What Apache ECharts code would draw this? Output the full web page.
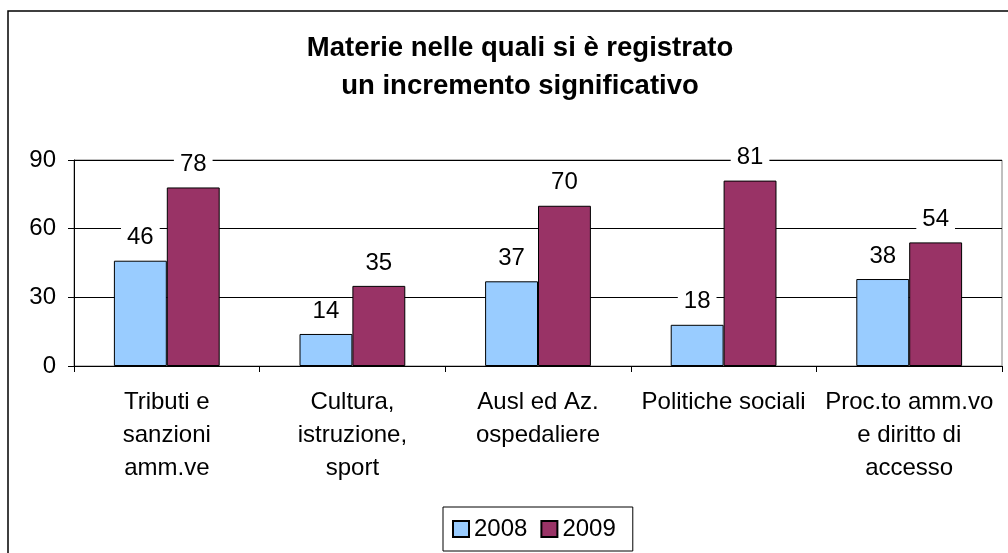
<!DOCTYPE html>
<html>
<head>
<meta charset="utf-8">
<script src="https://cdn.jsdelivr.net/npm/echarts@6/dist/echarts.min.js"></script>
<style>
  html, body { margin: 0; padding: 0; background: #fff; }
  #chart { width: 1008px; height: 553px; }
</style>
</head>
<body>
<div id="chart"></div>
<script>
const categories = [
  'Tributi e\nsanzioni\namm.ve',
  'Cultura,\nistruzione,\nsport',
  'Ausl ed Az.\nospedaliere',
  'Politiche sociali',
  'Proc.to amm.vo\ne diritto di\naccesso'
]
const values2008 = [46, 14, 37, 18, 38]
const values2009 = [78, 35, 70, 81, 54]
const yTicks = [0, 30, 60, 90]

const font = 'Liberation Sans, Arial, sans-serif'

const chart = echarts.init(document.getElementById('chart'))

const barLabel = {
  show: true,
  position: 'top',
  distance: 10,
  color: '#000',
  fontFamily: font,
  fontSize: 24,
  backgroundColor: '#fff',
  padding: [1, 6]
}

const option = {
  animation: false,
  graphic: [
    {
      type: 'rect',
      shape: { x: 8, y: 11, width: 1100, height: 600 },
      style: { fill: 'none', stroke: '#000', lineWidth: 1.5 },
      silent: true
    },
    {
      // titolo centrato come nell'originale (leggermente a destra)
      type: 'text',
      x: 520,
      y: 29,
      style: {
        text: 'Materie nelle quali si è registrato\nun incremento significativo',
        align: 'center',
        verticalAlign: 'top',
        fontFamily: font,
        fontSize: 27.5,
        fontWeight: 'bold',
        fill: '#000',
        lineHeight: 38
      },
      silent: true
    }
  ],
  legend: {
    top: 507,
    left: 443,
    icon: 'rect',
    itemWidth: 16,
    itemHeight: 16,
    itemGap: 13,
    borderColor: '#000',
    borderWidth: 1,
    padding: [10, 17, 10, 9],
    textStyle: { fontFamily: font, fontSize: 24, color: '#000' },
    data: ['2008', '2009']
  },
  grid: {
    left: 74,
    right: 6,
    top: 160,
    bottom: 187,
    show: true,
    borderColor: '#808080',
    borderWidth: 1
  },
  xAxis: {
    type: 'category',
    data: categories,
    axisLine: { lineStyle: { color: '#000' } },
    axisTick: { show: true, length: 6, lineStyle: { color: '#000' } },
    axisLabel: {
      color: '#000',
      fontFamily: font,
      fontSize: 24,
      lineHeight: 33,
      margin: 20,
      interval: 0
    }
  },
  yAxis: {
    type: 'value',
    min: yTicks[0],
    max: yTicks[yTicks.length - 1],
    interval: 30,
    axisLine: { show: true, lineStyle: { color: '#000' } },
    axisTick: { show: true, length: 6, lineStyle: { color: '#000' } },
    splitLine: { lineStyle: { color: '#000', width: 1 } },
    axisLabel: { color: '#000', fontFamily: font, fontSize: 24, margin: 18 }
  },
  series: [
    {
      name: '2008',
      type: 'bar',
      data: values2008,
      barGap: '0%',
      barCategoryGap: '43%',
      itemStyle: { color: '#99CCFF', borderColor: '#000', borderWidth: 1 },
      label: barLabel
    },
    {
      name: '2009',
      type: 'bar',
      data: values2009,
      itemStyle: { color: '#993366', borderColor: '#000', borderWidth: 1 },
      label: barLabel
    }
  ]
}

chart.setOption(option)
</script>
</body>
</html>
